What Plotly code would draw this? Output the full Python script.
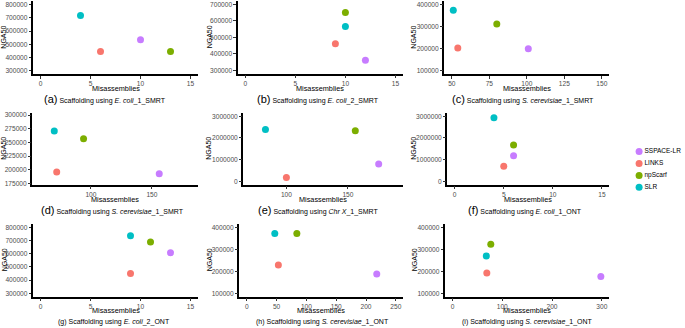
import plotly.graph_objects as go

W, H = 685, 328

# ---------------- data ----------------
series = ["LINKS", "npScarf", "SLR", "SSPACE-LR"]
series_colors = ["#F8766D", "#7CAE00", "#00BFC4", "#C77CFF"]
legend_order = ["SSPACE-LR", "LINKS", "npScarf", "SLR"]

panel_letters = ["a", "b", "c", "d", "e", "f", "g", "h", "i"]
panel_datasets = [
    "<i>E. coli</i>_1_SMRT",
    "<i>E. coli</i>_2_SMRT",
    "<i>S. cerevisiae</i>_1_SMRT",
    "<i>S. cerevisiae</i>_1_SMRT",
    "<i>Chr X</i>_1_SMRT",
    "<i>E. coli</i>_1_ONT",
    "<i>E. coli</i>_2_ONT",
    "<i>S. cerevisiae</i>_1_ONT",
    "<i>S. cerevisiae</i>_1_ONT",
]

# misassemblies / NGA50 per series, panels a..i
links_mis = [6, 9, 54, 72, 100, 5, 9, 53, 69]
links_nga50 = [447000, 461000, 203000, 196000, 180000, 700000, 449000, 228000, 192000]
npscarf_mis = [13, 10, 80, 94, 156, 6, 11, 84, 77]
npscarf_nga50 = [447000, 651000, 311000, 257000, 2330000, 1673000, 688000, 372000, 323000]
slr_mis = [4, 10, 51, 70, 83, 4, 9, 47, 68]
slr_nga50 = [717000, 566000, 373000, 271000, 2390000, 2930000, 735000, 372000, 269000]
sspace_mis = [10, 12, 101, 156, 175, 6, 13, 218, 298]
sspace_nga50 = [535000, 361000, 200000, 193000, 803000, 1180000, 607000, 188000, 176000]

series_mis = [links_mis, npscarf_mis, slr_mis, sspace_mis]
series_nga50 = [links_nga50, npscarf_nga50, slr_nga50, sspace_nga50]

x_tickvals = [
    [0, 5, 10, 15], [0, 5, 10, 15], [50, 75, 100, 125, 150],
    [100, 150], [100, 150], [0, 5, 10, 15],
    [0, 5, 10, 15], [0, 50, 100, 150, 200, 250], [0, 100, 200, 300],
]
y_tickvals = [
    [300000, 400000, 500000, 600000, 700000, 800000],
    [300000, 400000, 500000, 600000, 700000],
    [100000, 200000, 300000, 400000],
    [175000, 200000, 225000, 250000, 275000, 300000],
    [0, 1000000, 2000000, 3000000],
    [0, 1000000, 2000000, 3000000],
    [300000, 400000, 500000, 600000, 700000, 800000],
    [100000, 200000, 300000, 400000],
    [100000, 200000, 300000, 400000],
]

# ---------------- layout geometry (pixels) ----------------
px_x = [(33, 198), (237.7, 403), (444.3, 609.3),
        (32.3, 198.3), (243.3, 403.3), (447.3, 609.3),
        (33, 198), (239.3, 403.3), (445, 609.3)]
px_y = [(0, 74), (0, 73.3), (0, 74),
        (113, 185.3), (113, 185.3), (113, 185.3),
        (225, 298.3), (225, 298.3), (225, 298.3)]
x_ranges = [[-0.75, 15.75], [-0.75, 15.75], [45, 155],
            [52, 188], [65, 195], [-0.75, 15.75],
            [-0.75, 15.75], [-12.5, 262.5], [-15, 315]]
y_ranges = [[275000, 825000], [280000, 720000], [85000, 415000],
            [173000, 304000], [-150000, 3150000], [-150000, 3150000],
            [275000, 825000], [85000, 415000], [85000, 415000]]

ytitle_x = [4, 209, 414, 4, 209, 414, 4, 209, 414]
xtitle_y = [88.5, 88.5, 88.5, 200, 200, 200, 312.8, 312.8, 312.8]
caption_x = [105, 318, 523, 112, 318, 525, 114, 322, 527]
caption_y = [99.3, 99.3, 99.3, 210.8, 210.8, 210.8, 323.5, 323.5, 323.5]

FONT = "Liberation Sans, Arial, Helvetica, sans-serif"


def fx(p):
    return p / W


def fy(p):
    return 1 - p / H


fig = go.Figure()
layout = dict(
    width=W, height=H, margin=dict(l=0, r=0, t=0, b=0),
    paper_bgcolor="white", plot_bgcolor="white",
    showlegend=False, font=dict(family=FONT, size=7, color="black"),
)
annotations = []

for k in range(9):
    n = k + 1
    xa = "x" if n == 1 else f"x{n}"
    ya = "y" if n == 1 else f"y{n}"
    for s in range(4):
        fig.add_trace(go.Scatter(
            x=[series_mis[s][k]], y=[series_nga50[s][k]],
            mode="markers", name=series[s],
            marker=dict(color=series_colors[s], size=7),
            xaxis=xa, yaxis=ya, cliponaxis=False, hoverinfo="x+y+name",
        ))
    axis_common = dict(
        showgrid=False, zeroline=False, showline=True, linecolor="black",
        linewidth=1.5, ticks="outside", ticklen=2.5, tickwidth=0.8,
        tickcolor="#333333", tickfont=dict(family=FONT, size=6.6, color="#4D4D4D"),
        fixedrange=True,
    )
    layout[f"xaxis{'' if n == 1 else n}"] = dict(
        axis_common, domain=[fx(px_x[k][0]), fx(px_x[k][1])],
        range=x_ranges[k], tickvals=x_tickvals[k], anchor=ya,
        tickformat="d",
    )
    layout[f"yaxis{'' if n == 1 else n}"] = dict(
        axis_common, domain=[fy(px_y[k][1]), fy(px_y[k][0])],
        range=y_ranges[k], tickvals=y_tickvals[k], anchor=xa,
        tickformat="d",
    )
    # axis titles
    annotations.append(dict(
        text="NGA50", textangle=-90, xref="paper", yref="paper",
        x=fx(ytitle_x[k]), y=fy((px_y[k][0] + px_y[k][1]) / 2),
        xanchor="center", yanchor="middle", showarrow=False, borderpad=0,
        font=dict(family=FONT, size=7, color="black"),
    ))
    annotations.append(dict(
        text="Misassemblies", xref="paper", yref="paper",
        x=fx((px_x[k][0] + px_x[k][1]) / 2), y=fy(xtitle_y[k]),
        xanchor="center", yanchor="middle", showarrow=False, borderpad=0,
        font=dict(family=FONT, size=7.3, color="black"),
    ))
    if k < 6:
        cap = (f"<span style='font-size:11px'>({panel_letters[k]})</span> "
               f"Scaffolding using {panel_datasets[k]}")
    else:
        cap = f"({panel_letters[k]}) Scaffolding using {panel_datasets[k]}"
    annotations.append(dict(
        text=cap, xref="paper", yref="paper",
        x=fx(caption_x[k]), y=fy(caption_y[k]),
        xanchor="center", yanchor="middle", showarrow=False, borderpad=0,
        font=dict(family=FONT, size=7, color="black"),
    ))

# ---------------- legend as its own small subplot ----------------
leg_colors = [series_colors[series.index(nm)] for nm in legend_order]
fig.add_trace(go.Scatter(
    x=[0.1] * len(legend_order), y=legend_order,
    mode="markers+text", text=legend_order, textposition="middle right",
    textfont=dict(family=FONT, size=6.5, color="black"),
    marker=dict(color=leg_colors, size=7),
    xaxis="x10", yaxis="y10", cliponaxis=False, hoverinfo="skip",
))
layout["xaxis10"] = dict(domain=[fx(634), fx(685)], range=[0, 1], visible=False,
                         anchor="y10", fixedrange=True)
layout["yaxis10"] = dict(domain=[fy(194), fy(146)], range=[-0.5, 3.5], visible=False,
                         anchor="x10", type="category",
                         categoryorder="array", categoryarray=legend_order[::-1],
                         fixedrange=True)

layout["annotations"] = annotations
fig.update_layout(**layout)
fig.write_html(
    "out.html",
    config={"displayModeBar": False},
    post_script="document.body.style.margin='0';document.body.style.overflow='hidden';",
)
